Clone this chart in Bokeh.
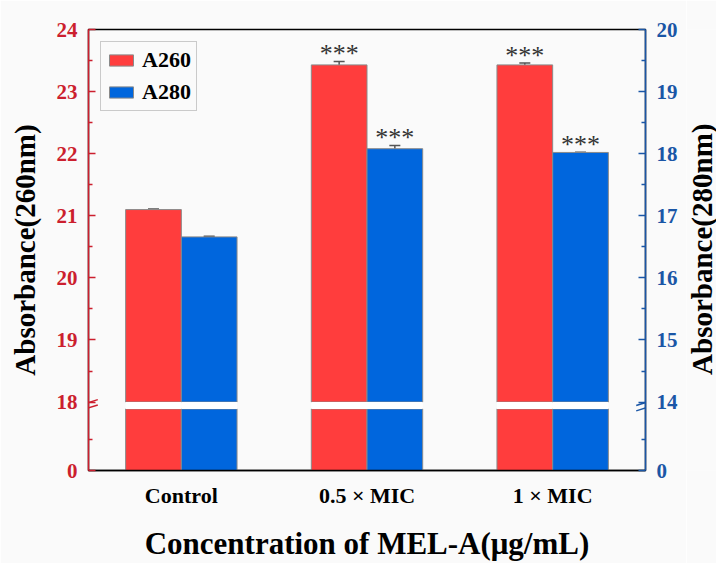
import math
from bokeh.plotting import figure
from bokeh.layouts import row
from bokeh.models import (FactorRange, Range1d, LinearAxis, FixedTicker,
                          ColumnDataSource, Whisker, TeeHead, Legend, LegendItem, Arrow)
from bokeh.transform import dodge
from bokeh.core.properties import value
from bokeh.embed import file_html
from bokeh.resources import INLINE

# ---------------- data ----------------
categories = ["Control", "0.5 × MIC", "1 × MIC"]
a260 = [21.10, 23.43, 23.43]
a260_err = [0.01, 0.055, 0.03]
a280 = [16.66, 18.08, 18.02]
a280_err = [0.01, 0.05, 0.005]
a260_sig = ["", "***", "***"]
a280_sig = ["", "***", "***"]
left_ticks = [0, 18, 19, 20, 21, 22, 23, 24]
left_minor = [9, 18.5, 19.5, 20.5, 21.5, 22.5, 23.5]
right_ticks = [0, 14, 15, 16, 17, 18, 19, 20]
right_minor = [7, 14.5, 15.5, 16.5, 17.5, 18.5, 19.5]
left_break, left_top = 18, 24
right_break, right_top = 14, 20
right_title = "Absorbance(280nm)"

# ---------------- styling ----------------
FONT = "Liberation Serif"
RED_BAR, BLUE_BAR = "#FF3D3D", "#0066DD"
RED_AX, BLUE_AX = "#CC1F2E", "#1A56A6"
BG = "#FAFAFA"
LOW_H, GAP, UNIT = 63.0, 7.0, 63.5   # broken-axis geometry
MAIN_W, SIDE_W, H = 686, 30, 563


def make_tf(brk):
    def tf(v):
        if v >= brk:
            return LOW_H + GAP + (v - brk) * UNIT
        return v / brk * LOW_H
    return tf


tf_l, tf_r = make_tf(left_break), make_tf(right_break)
TOP = tf_l(left_top)

src = ColumnDataSource(dict(
    cat=categories,
    r_low=[min(tf_l(v), LOW_H) for v in a260],
    r_up=[tf_l(v) for v in a260],
    r_hi=[tf_l(v + e) for v, e in zip(a260, a260_err)],
    r_lo=[tf_l(v - e) for v, e in zip(a260, a260_err)],
    b_low=[min(tf_r(v), LOW_H) for v in a280],
    b_up=[tf_r(v) for v in a280],
    b_hi=[tf_r(v + e) for v, e in zip(a280, a280_err)],
    b_lo=[tf_r(v - e) for v, e in zip(a280, a280_err)],
    gap_b=[LOW_H] * len(categories),
    gap_t=[LOW_H + GAP] * len(categories),
))

# significance marks (only where present)
r_idx = [i for i, s in enumerate(a260_sig) if s]
b_idx = [i for i, s in enumerate(a280_sig) if s]
sig_r = ColumnDataSource(dict(cat=[categories[i] for i in r_idx],
                              y=[tf_l(a260[i] + a260_err[i]) for i in r_idx],
                              t=[a260_sig[i] for i in r_idx]))
sig_b = ColumnDataSource(dict(cat=[categories[i] for i in b_idx],
                              y=[tf_r(a280[i] + a280_err[i]) for i in b_idx],
                              t=[a280_sig[i] for i in b_idx]))

p = figure(width=MAIN_W, height=H, x_range=FactorRange(*categories, range_padding=0),
           y_range=Range1d(0, TOP), output_backend="svg", toolbar_location=None,
           min_border_left=88, min_border_right=MAIN_W - 645, min_border_top=29,
           min_border_bottom=83,
           background_fill_color=BG, border_fill_color=BG,
           outline_line_color="black", outline_line_width=1.5)
p.extra_y_ranges = {"right": Range1d(0, tf_r(right_top))}
p.xgrid.grid_line_color = None
p.ygrid.grid_line_color = None

W = 0.3
xr = dodge("cat", -W / 2, range=p.x_range)
xb = dodge("cat", W / 2, range=p.x_range)

# bars (lower and upper segments)
bar_kw = dict(width=W, line_color="#8a8a8a", line_width=1, source=src)
p.vbar(x=xr, bottom=0, top="r_low", fill_color=RED_BAR, **bar_kw)
r260 = p.vbar(x=xr, bottom="gap_t", top="r_up", fill_color=RED_BAR, **bar_kw)
p.vbar(x=xb, bottom=0, top="b_low", fill_color=BLUE_BAR, y_range_name="right", **bar_kw)
r280 = p.vbar(x=xb, bottom="gap_t", top="b_up", fill_color=BLUE_BAR, y_range_name="right", **bar_kw)
p.vbar(x=xr, bottom="gap_b", top="gap_t", width=W, fill_color="white", line_color=None, source=src)
p.vbar(x=xb, bottom="gap_b", top="gap_t", width=W, fill_color="white", line_color=None, source=src)

# error bars
ERR = "#555555"
for base, up, lo, rn in [(xr, "r_hi", "r_lo", "default"), (xb, "b_hi", "b_lo", "right")]:
    w = Whisker(base=base, upper=up, lower=lo, source=src, dimension="height",
                line_color=ERR, line_width=1.5,
                upper_head=TeeHead(size=11, line_color=ERR, line_width=1.5),
                lower_head=TeeHead(size=11, line_color=ERR, line_width=1.5),
                y_range_name=rn)
    p.add_layout(w)

# significance stars
txt_kw = dict(y="y", text="t", text_font=value(FONT), text_font_size="26px",
              text_color="#333333", text_align="center", text_baseline="alphabetic",
              y_offset=-8)
p.text(source=sig_r, x=dodge("cat", -W / 2, range=p.x_range), **txt_kw)
p.text(source=sig_b, x=dodge("cat", W / 2, range=p.x_range), y_range_name="right", **txt_kw)


# axes
def style_y(ax, color, ticks, minor, tf):
    ax.ticker = FixedTicker(ticks=[tf(v) for v in ticks], minor_ticks=[tf(v) for v in minor])
    ax.major_label_overrides = {tf(v): str(v) for v in ticks}
    ax.axis_line_color = color
    ax.axis_line_width = 1.5
    ax.major_tick_line_color = color
    ax.minor_tick_line_color = color
    ax.major_tick_line_width = 1.5
    ax.minor_tick_line_width = 1.5
    ax.major_tick_in, ax.major_tick_out = 7, 0
    ax.minor_tick_in, ax.minor_tick_out = 4, 0
    ax.major_label_text_color = color
    ax.major_label_text_font = FONT
    ax.major_label_text_font_style = "bold"
    ax.major_label_text_font_size = "21px"
    ax.major_label_standoff = 11


lax = p.yaxis[0]
style_y(lax, RED_AX, left_ticks, left_minor, tf_l)
lax.axis_label = "Absorbance(260nm)"
lax.axis_label_text_font = FONT
lax.axis_label_text_font_style = "bold"
lax.axis_label_text_font_size = "29px"
lax.axis_label_text_color = "black"
lax.axis_label_standoff = 13

rax = LinearAxis(y_range_name="right")
style_y(rax, BLUE_AX, right_ticks, right_minor, tf_r)
p.add_layout(rax, "right")

xax = p.xaxis[0]
xax.axis_line_color = "black"
xax.axis_line_width = 1.5
xax.major_tick_line_color = None
xax.major_tick_in = xax.major_tick_out = 0
xax.major_label_text_font = FONT
xax.major_label_text_font_style = "bold"
xax.major_label_text_font_size = "22px"
xax.major_label_text_color = "black"
xax.major_label_standoff = 12
xax.axis_label = "Concentration of MEL-A(μg/mL)"
xax.axis_label_text_font = FONT
xax.axis_label_text_font_style = "bold"
xax.axis_label_text_font_size = "31px"
xax.axis_label_text_color = "black"
xax.axis_label_standoff = 15

# axis break marks
for dy in (0.0, 5.5):
    p.add_layout(Arrow(end=None, x_start=-0.05, y_start=LOW_H - 2 + dy, x_end=0.05,
                       y_end=LOW_H + 4 + dy, line_color=RED_AX, line_width=1.5))
    p.add_layout(Arrow(end=None, x_start=2.95, y_start=LOW_H - 2 + dy, x_end=3.05,
                       y_end=LOW_H + 4 + dy, line_color=BLUE_AX, line_width=1.5,
                       y_range_name="right"))

# legend
legend = Legend(items=[LegendItem(label="A260", renderers=[r260]),
                       LegendItem(label="A280", renderers=[r280])],
                location="top_left", margin=12, padding=5, spacing=6,
                glyph_width=30, glyph_height=14, label_standoff=6,
                label_text_font=FONT, label_text_font_style="bold",
                label_text_font_size="22px", label_text_color="black",
                border_line_color="#9a9a9a", border_line_width=1,
                background_fill_color=BG, background_fill_alpha=1)
p.add_layout(legend)

# narrow side panel carrying the right-hand title (reads bottom-to-top)
side = figure(width=SIDE_W, height=H, x_range=Range1d(0, 1), y_range=Range1d(0, H),
              output_backend="svg", toolbar_location=None, min_border=0,
              background_fill_color=BG, border_fill_color=BG, outline_line_color=None)
side.axis.visible = False
side.grid.visible = False
side.text(x=[0.5], y=[H - (29 + 480) / 2 - 26], text=[right_title], angle=math.pi / 2,
          text_align="center", text_baseline="middle", text_font=value(FONT),
          text_font_style="bold", text_font_size="29px", text_color="black")

layout = row(p, side, spacing=0)
open("out.html", "w").write(file_html(layout, INLINE))
